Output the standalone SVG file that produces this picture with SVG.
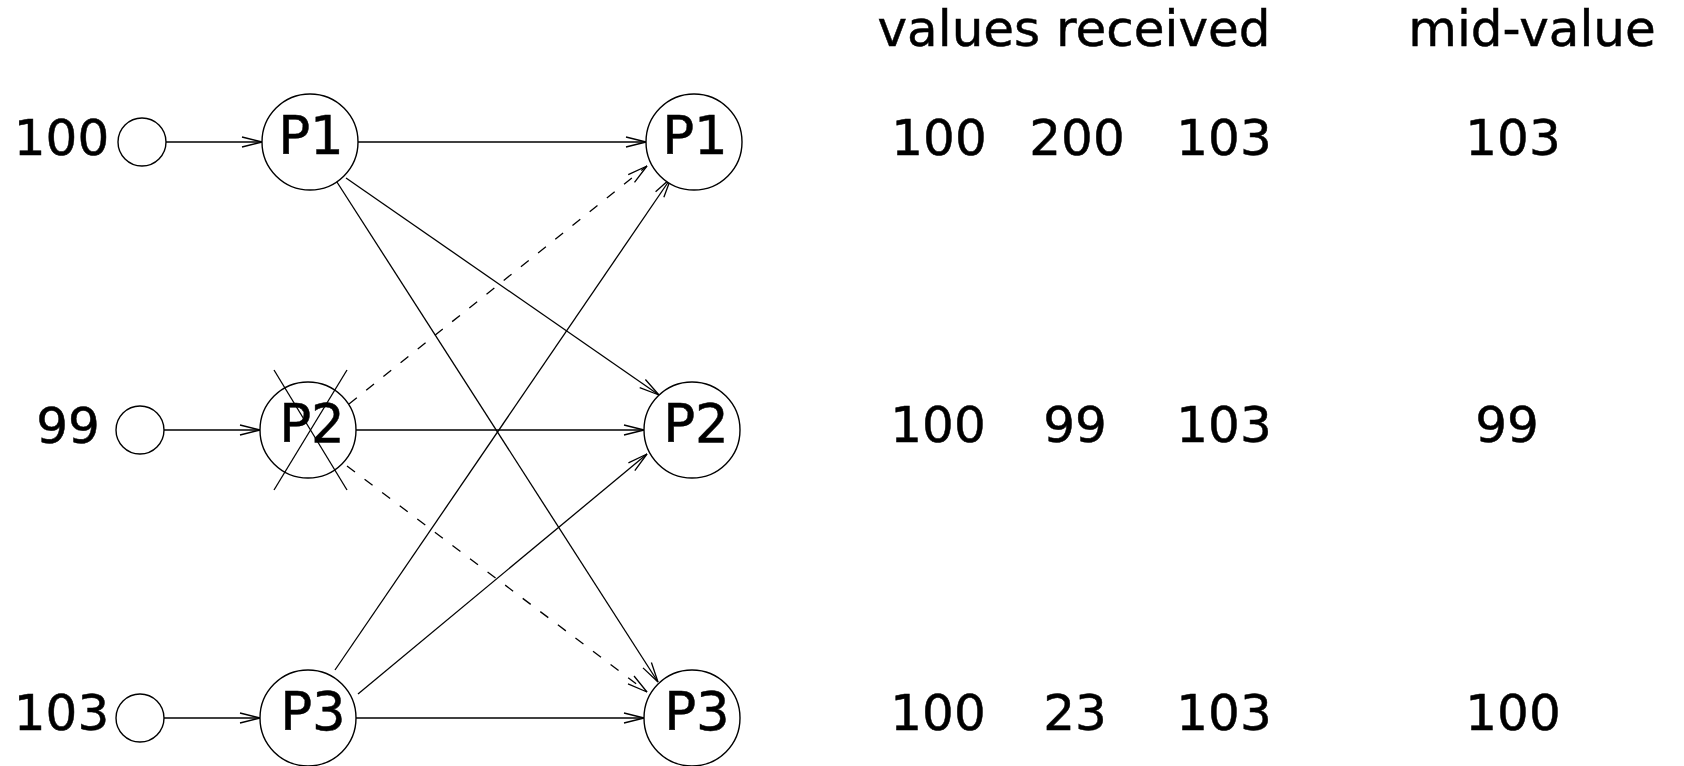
<svg xmlns="http://www.w3.org/2000/svg" width="1684" height="766" viewBox="0 0 1684 766">
<style>
  .t { font-family: "DejaVu Sans", "Liberation Sans", sans-serif; font-size: 50px; fill: #000; stroke: #000; stroke-width: 0.5; text-anchor: middle; }
  .n { font-size: 53px; }
  .c { fill: #fff; stroke: #000; stroke-width: 1.4; }
  .e { fill: none; stroke: #000; stroke-width: 1.3; marker-end: url(#ah); }
  .d { stroke-dasharray: 10 12; }
  .x { stroke: #000; stroke-width: 1.3; }
</style>
<defs>
  <marker id="ah" markerUnits="userSpaceOnUse" markerWidth="24" markerHeight="14" refX="21" refY="6" orient="auto">
    <path d="M1,1 L21,6 L1,11" fill="none" stroke="#000" stroke-width="1.3"/>
  </marker>
</defs>
<rect width="1684" height="766" fill="#fff"/>

<g id="connectors">
  <line class="e" x1="166" y1="142" x2="262" y2="142"/>
  <line class="e" x1="164" y1="430" x2="260" y2="430"/>
  <line class="e" x1="164" y1="718" x2="260" y2="718"/>
  <line class="e" x1="358" y1="142" x2="646" y2="142"/>
  <line class="e" x1="346" y1="178" x2="659" y2="395"/>
  <line class="e" x1="335" y1="179" x2="658" y2="682"/>
  <line class="e d" x1="349" y1="404" x2="647" y2="166"/>
  <line class="e" x1="356" y1="430" x2="644" y2="430"/>
  <line class="e d" x1="347" y1="466" x2="647" y2="692"/>
  <line class="e" x1="335" y1="670" x2="671" y2="178"/>
  <line class="e" x1="358" y1="694" x2="647" y2="454"/>
  <line class="e" x1="356" y1="718" x2="644" y2="718"/>
</g>

<g id="in1"><circle class="c" cx="142" cy="142" r="24"/><text class="t" x="61.5" y="155">100</text></g>
<g id="in2"><circle class="c" cx="140" cy="430" r="24"/><text class="t" x="68" y="443">99</text></g>
<g id="in3"><circle class="c" cx="140" cy="718" r="24"/><text class="t" x="61.5" y="730">103</text></g>

<g id="p1-left"><circle class="c" cx="310" cy="142" r="48"/><text class="t n" x="311" y="154">P1</text></g>
<g id="p2-left"><circle class="c" cx="308" cy="430" r="48"/><text class="t n" x="312" y="442">P2</text>
  <line class="x" x1="274" y1="370" x2="347" y2="490"/>
  <line class="x" x1="347" y1="370" x2="274" y2="490"/>
</g>
<g id="p3-left"><circle class="c" cx="308" cy="718" r="48"/><text class="t n" x="313" y="730">P3</text></g>

<g id="p1-right"><circle class="c" cx="694" cy="142" r="48"/><text class="t n" x="695" y="154">P1</text></g>
<g id="p2-right"><circle class="c" cx="692" cy="430" r="48"/><text class="t n" x="696" y="442">P2</text></g>
<g id="p3-right"><circle class="c" cx="692" cy="718" r="48"/><text class="t n" x="697" y="730">P3</text></g>

<g id="table">
  <text class="t" x="1074" y="46">values received</text>
  <text class="t" x="1532" y="46">mid-value</text>
  <text class="t" x="939" y="155">100</text>
  <text class="t" x="1077" y="155">200</text>
  <text class="t" x="1224" y="155">103</text>
  <text class="t" x="1513" y="155">103</text>
  <text class="t" x="938" y="442">100</text>
  <text class="t" x="1075" y="442">99</text>
  <text class="t" x="1224" y="442">103</text>
  <text class="t" x="1507" y="442">99</text>
  <text class="t" x="938" y="730">100</text>
  <text class="t" x="1075" y="730">23</text>
  <text class="t" x="1224" y="730">103</text>
  <text class="t" x="1513" y="730">100</text>
</g>
</svg>
